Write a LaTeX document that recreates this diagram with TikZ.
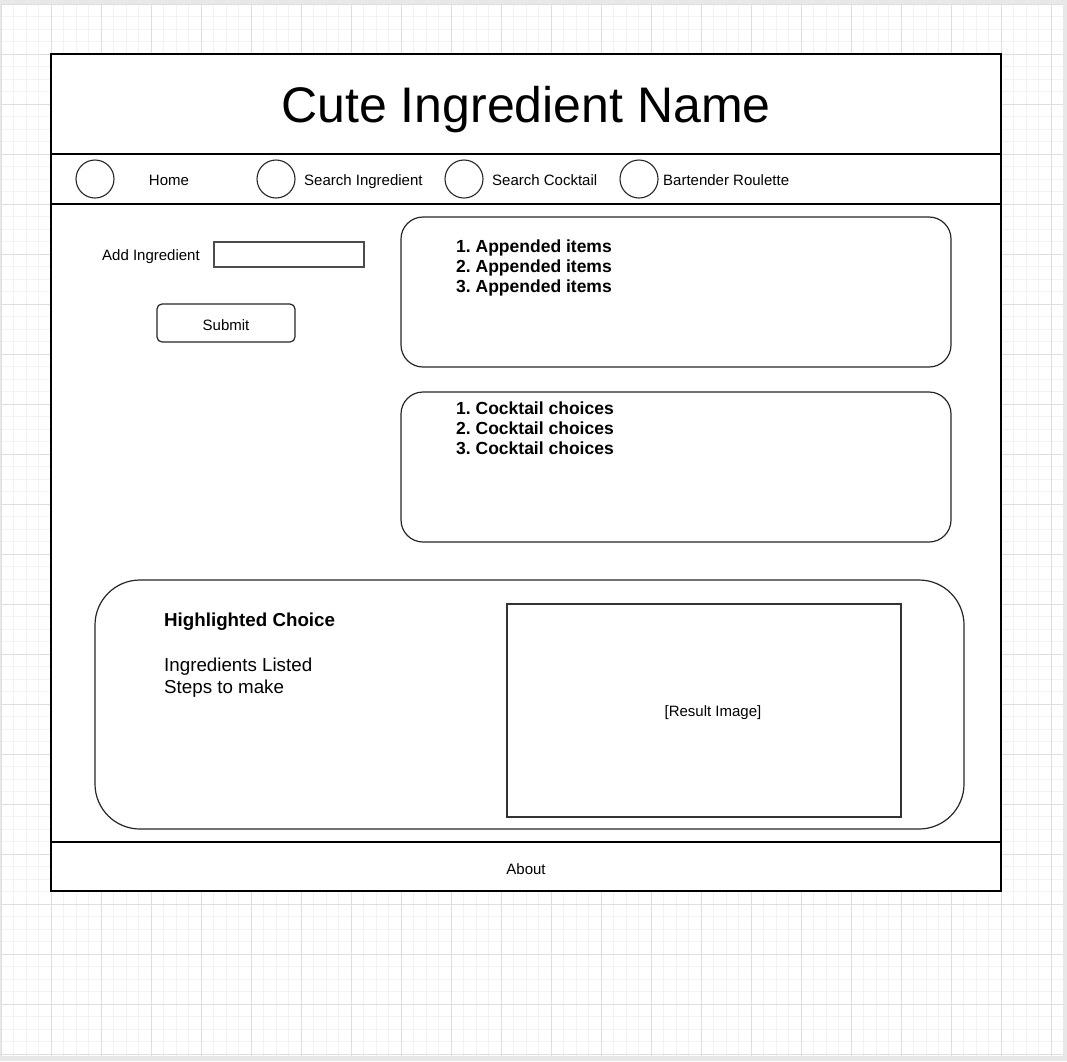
\documentclass[tikz,border=0pt]{standalone}
\usepackage{fontspec}
\setmainfont{Liberation Sans}
\begin{document}
\begin{tikzpicture}[x=1pt,y=-1pt,
  frame/.style={draw=black,line width=1.3pt},
  panel/.style={draw=black!85,line width=1.2pt,fill=white},
  navdot/.style={circle,draw=black!85,line width=1.1pt,minimum size=38pt,inner sep=0pt},
  navlabel/.style={font=\fontsize{15}{18}\selectfont,inner sep=0pt},
  listitem/.style={anchor=west,font=\fontsize{17.5}{20}\selectfont\bfseries,inner sep=0pt},
  bodytext/.style={anchor=west,font=\fontsize{18.75}{22}\selectfont,inner sep=0pt}]
\useasboundingbox (0,0) rectangle (1067,1061);
% canvas with grid
\fill[black!9] (0,0) rectangle (1067,1061);
\fill[white] (1,4) rectangle (1063,1056);
\begin{scope}[shift={(1,4)}]
  \draw[black!5,line width=0.8pt,step=12.5pt] (0,0) grid (1062,1052);
  \draw[black!13,line width=0.8pt,step=50pt] (0,0) grid (1062,1052);
\end{scope}
% page frame
\draw[frame,fill=white] (51,54) rectangle (1001,891);
\draw[frame] (51,154) -- (1001,154);
\draw[frame] (51,204) -- (1001,204);
\draw[frame] (51,842) -- (1001,842);
% header
\node[font=\fontsize{50}{60}\selectfont,inner sep=0pt] (title) at (526,110) {Cute Ingredient Name};
% navigation (labels share one baseline)
\node[navdot] (c1) at (95,179) {};
\node[navlabel,anchor=base] (home) at (169,185.5) {Home};
\node[navdot] (c2) at (276,179) {};
\node[navlabel,anchor=base west] (sing) at (304,185.5) {Search Ingredient};
\node[navdot] (c3) at (464,179) {};
\node[navlabel,anchor=base west] (scock) at (492,185.5) {Search Cocktail};
\node[navdot] (c4) at (639,179) {};
\node[navlabel,anchor=base west] (roul) at (663,185.5) {Bartender Roulette};
% ingredient form
\node[navlabel,anchor=base west] (addlbl) at (102,260) {Add Ingredient};
\draw[draw=black!70,line width=1.4pt] (214,242) rectangle (364,267);
\node (inputbox) at (289,254.5) {};
\draw[panel,rounded corners=5pt] (157,304) rectangle (295,342);
\node[navlabel] (submit) at (226,325) {Submit};
% appended ingredients
\draw[panel,rounded corners=22pt] (401,217) rectangle (951,367);
\node[listitem] (a1) at (456,248) {1.\ Appended items};
\node[listitem] (a2) at (456,268) {2.\ Appended items};
\node[listitem] (a3) at (456,288) {3.\ Appended items};
% cocktail choices
\draw[panel,rounded corners=22pt] (401,392) rectangle (951,542);
\node[listitem] (b1) at (456,408) {1.\ Cocktail choices};
\node[listitem] (b2) at (456,428) {2.\ Cocktail choices};
\node[listitem] (b3) at (456,448) {3.\ Cocktail choices};
% highlighted result
\draw[panel,rounded corners=45pt] (95,580) rectangle (964,829);
\node[bodytext,font=\fontsize{18.75}{22}\selectfont\bfseries] (hc) at (164,622) {Highlighted Choice};
\node[bodytext] (ing) at (164,667) {Ingredients Listed};
\node[bodytext] (steps) at (164,689) {Steps to make};
\draw[draw=black!80,line width=1.2pt] (507,604) rectangle (901,817);
\node[navlabel] (img) at (713,713) {[Result Image]};
% footer
\node[navlabel] (about) at (526,869) {About};
\end{tikzpicture}
\end{document}
